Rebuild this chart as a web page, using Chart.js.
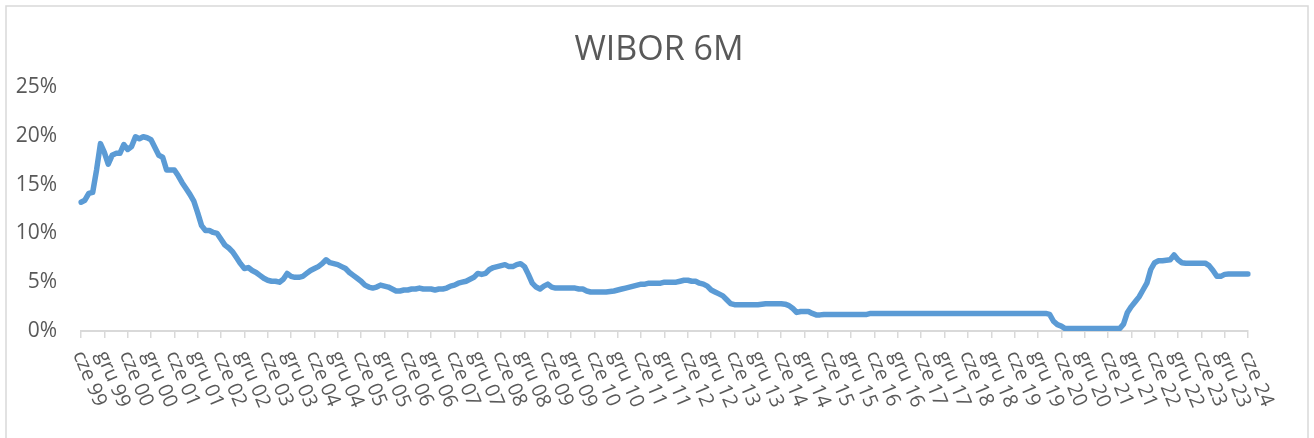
<!DOCTYPE html>
<html>
<head>
<meta charset="utf-8">
<script src="https://cdn.jsdelivr.net/npm/chart.js@4.4.1/dist/chart.umd.min.js"></script>
<style>
  html, body { margin: 0; padding: 0; background: #ffffff; }
  #wrap { width: 1314px; height: 438px; }
</style>
</head>
<body>
<div id="wrap"><canvas id="chart" width="1314" height="438"></canvas></div>
<script>
const chartTitle = 'WIBOR 6M';

// tick labels every 6 months, cze 99 .. cze 24
const tickLabels = [
  'cze 99', 'gru 99', 'cze 00', 'gru 00', 'cze 01', 'gru 01', 'cze 02', 'gru 02',
  'cze 03', 'gru 03', 'cze 04', 'gru 04', 'cze 05', 'gru 05', 'cze 06', 'gru 06',
  'cze 07', 'gru 07', 'cze 08', 'gru 08', 'cze 09', 'gru 09', 'cze 10', 'gru 10',
  'cze 11', 'gru 11', 'cze 12', 'gru 12', 'cze 13', 'gru 13', 'cze 14', 'gru 14',
  'cze 15', 'gru 15', 'cze 16', 'gru 16', 'cze 17', 'gru 17', 'cze 18', 'gru 18',
  'cze 19', 'gru 19', 'cze 20', 'gru 20', 'cze 21', 'gru 21', 'cze 22', 'gru 22',
  'cze 23', 'gru 23', 'cze 24'
];

const monthNames = ['sty', 'lut', 'mar', 'kwi', 'maj', 'cze', 'lip', 'sie', 'wrz', 'paź', 'lis', 'gru'];

// WIBOR 6M, monthly, %
const wibor1999 = [13.2, 13.4, 14.1, 14.2, 16.5, 19.2, 18.3]; // cze-gru
const wibor2000 = [17.1, 18.0, 18.2, 18.2, 19.1, 18.6, 18.9, 19.9, 19.7, 19.9, 19.8, 19.6];
const wibor2001 = [18.8, 18.0, 17.8, 16.5, 16.5, 16.5, 15.9, 15.2, 14.6, 14.0, 13.3, 12.1];
const wibor2002 = [10.8, 10.3, 10.3, 10.1, 10.0, 9.4, 8.8, 8.5, 8.1, 7.5, 6.9, 6.4];
const wibor2003 = [6.5, 6.2, 6.0, 5.7, 5.4, 5.2, 5.1, 5.1, 5.0, 5.3, 5.9, 5.6];
const wibor2004 = [5.5, 5.5, 5.6, 5.9, 6.2, 6.4, 6.6, 6.9, 7.3, 7.0, 6.9, 6.8];
const wibor2005 = [6.6, 6.4, 6.0, 5.7, 5.4, 5.1, 4.7, 4.5, 4.4, 4.5, 4.7, 4.6];
const wibor2006 = [4.5, 4.3, 4.1, 4.1, 4.2, 4.2, 4.3, 4.3, 4.4, 4.3, 4.3, 4.3];
const wibor2007 = [4.2, 4.3, 4.3, 4.4, 4.6, 4.7, 4.9, 5.0, 5.1, 5.3, 5.5, 5.9];
const wibor2008 = [5.8, 5.9, 6.3, 6.5, 6.6, 6.7, 6.8, 6.6, 6.6, 6.8, 6.9, 6.6];
const wibor2009 = [5.8, 4.9, 4.5, 4.3, 4.6, 4.8, 4.5, 4.4, 4.4, 4.4, 4.4, 4.4];
const wibor2010 = [4.4, 4.3, 4.3, 4.1, 4.0, 4.0, 4.0, 4.0, 4.0, 4.05, 4.1, 4.2];
const wibor2011 = [4.3, 4.4, 4.5, 4.6, 4.7, 4.8, 4.8, 4.9, 4.9, 4.9, 4.9, 5.0];
const wibor2012 = [5.0, 5.0, 5.0, 5.1, 5.2, 5.2, 5.1, 5.1, 4.9, 4.8, 4.6, 4.2];
const wibor2013 = [4.0, 3.8, 3.6, 3.2, 2.8, 2.7, 2.7, 2.7, 2.7, 2.7, 2.7, 2.7];
const wibor2014 = [2.75, 2.8, 2.8, 2.8, 2.8, 2.8, 2.75, 2.6, 2.3, 1.9, 2.0, 2.0];
const wibor2015 = [2.0, 1.8, 1.65, 1.65, 1.7, 1.7, 1.7, 1.7, 1.7, 1.7, 1.7, 1.7];
const wibor2016 = [1.7, 1.7, 1.7, 1.7, 1.8, 1.8, 1.8, 1.8, 1.8, 1.8, 1.8, 1.8];
const wibor2017 = [1.8, 1.8, 1.8, 1.8, 1.8, 1.8, 1.8, 1.8, 1.8, 1.8, 1.8, 1.8];
const wibor2018 = [1.8, 1.8, 1.8, 1.8, 1.8, 1.8, 1.8, 1.8, 1.8, 1.8, 1.8, 1.8];
const wibor2019 = [1.8, 1.8, 1.8, 1.8, 1.8, 1.8, 1.8, 1.8, 1.8, 1.8, 1.8, 1.8];
const wibor2020 = [1.8, 1.8, 1.7, 1.0, 0.65, 0.5, 0.25, 0.25, 0.25, 0.25, 0.25, 0.25];
const wibor2021 = [0.25, 0.25, 0.25, 0.25, 0.25, 0.25, 0.25, 0.25, 0.25, 0.7, 1.9, 2.5];
const wibor2022 = [3.0, 3.5, 4.2, 4.9, 6.3, 7.0, 7.2, 7.2, 7.25, 7.3, 7.8, 7.3];
const wibor2023 = [7.0, 6.95, 6.95, 6.95, 6.95, 6.95, 6.95, 6.7, 6.2, 5.6, 5.6, 5.8];
const wibor2024 = [5.85, 5.85, 5.85, 5.85, 5.85, 5.85]; // sty-cze

const values = [].concat(
  wibor1999, wibor2000, wibor2001, wibor2002, wibor2003, wibor2004, wibor2005,
  wibor2006, wibor2007, wibor2008, wibor2009, wibor2010, wibor2011, wibor2012,
  wibor2013, wibor2014, wibor2015, wibor2016, wibor2017, wibor2018, wibor2019,
  wibor2020, wibor2021, wibor2022, wibor2023, wibor2024
);

// monthly category names starting at cze 99
const categories = values.map((v, i) => {
  const m = (5 + i) % 12;
  const y = (1999 + Math.floor((5 + i) / 12)) % 100;
  return monthNames[m] + ' ' + String(y).padStart(2, '0');
});

const TEXT = '#595959';
const FONT = '"Open Sans", "Noto Sans", sans-serif';

// frame + title + slanted x labels (Excel style, text running down-right)
const excelLook = {
  id: 'excelLook',
  beforeDraw(chart) {
    const ctx = chart.ctx;
    ctx.save();
    ctx.fillStyle = '#ffffff';
    ctx.fillRect(0, 0, chart.width, chart.height);
    ctx.strokeStyle = '#d9d9d9';
    ctx.lineWidth = 1.5;
    ctx.strokeRect(6, 6, chart.width - 12, chart.height + 40);
    ctx.restore();
  },
  afterDraw(chart) {
    const ctx = chart.ctx;
    const xs = chart.scales.x;
    ctx.save();
    ctx.fillStyle = TEXT;
    ctx.font = '34px ' + FONT;
    ctx.textAlign = 'center';
    ctx.textBaseline = 'middle';
    ctx.fillText(chartTitle, (chart.width) / 2 + 2, 50);

    ctx.font = '20px ' + FONT;
    ctx.textAlign = 'left';
    ctx.textBaseline = 'middle';
    tickLabels.forEach((lab, i) => {
      const x = xs.getPixelForValue(i * 6);
      ctx.save();
      ctx.translate(x - 3, xs.top + 21);
      ctx.rotate(67 * Math.PI / 180);
      ctx.fillText(lab, 0, 0);
      ctx.restore();
    });
    ctx.restore();
  }
};

new Chart(document.getElementById('chart'), {
  type: 'line',
  data: {
    labels: categories,
    datasets: [{
      label: chartTitle,
      data: values,
      borderColor: '#5B9BD5',
      borderWidth: 5.5,
      pointRadius: 0,
      tension: 0,
      borderJoinStyle: 'round',
      borderCapStyle: 'round',
      fill: false
    }]
  },
  options: {
    responsive: false,
    animation: false,
    devicePixelRatio: 1,
    layout: { padding: { left: 0, right: 66, top: 87, bottom: 0 } },
    plugins: {
      legend: { display: false },
      title: { display: false },
      tooltip: { enabled: false }
    },
    scales: {
      x: {
        type: 'category',
        offset: false,
        afterFit(scale) { scale.height = 107; },
        ticks: { display: false, autoSkip: false },
        grid: {
          display: true,
          drawOnChartArea: false,
          drawTicks: true,
          tickLength: 7,
          lineWidth: 1.5,
          color: (c) => (c.tick && c.tick.value % 6 === 0) ? '#d9d9d9' : 'rgba(0,0,0,0)'
        },
        border: { display: true, color: '#d9d9d9', width: 2 }
      },
      y: {
        min: 0,
        max: 25,
        afterFit(scale) { scale.width = 81; },
        ticks: {
          stepSize: 5,
          padding: 24,
          color: TEXT,
          font: { family: FONT, size: 21 },
          callback: (v) => v + '%'
        },
        grid: { display: false, drawTicks: false },
        border: { display: false }
      }
    }
  },
  plugins: [excelLook]
});
</script>
</body>
</html>
